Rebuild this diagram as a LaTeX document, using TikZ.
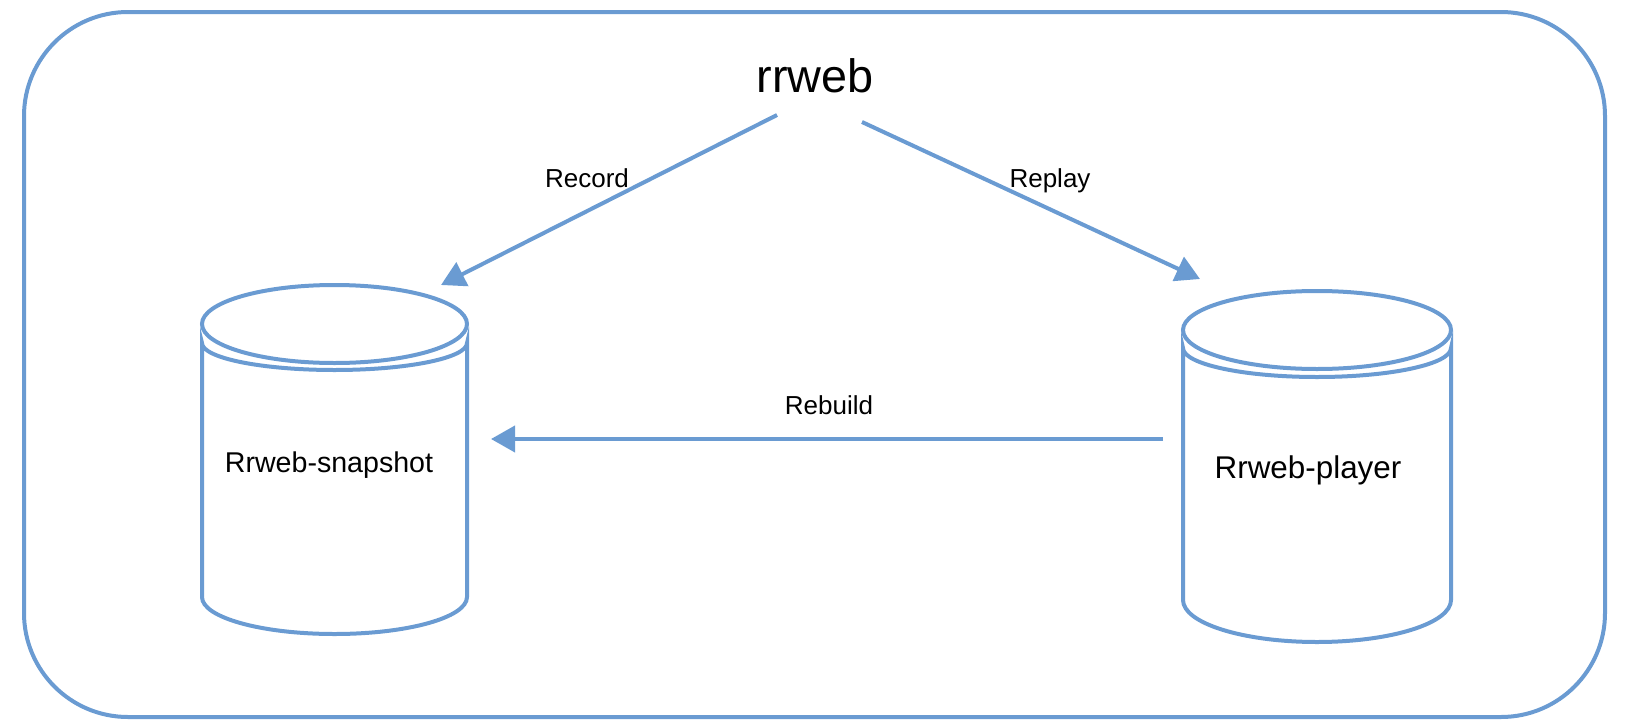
\documentclass[tikz,border=0pt]{standalone}
\usepackage{fontspec}
\setmainfont{Liberation Sans}
\usetikzlibrary{arrows.meta}
\definecolor{edge}{RGB}{106,155,210}
\tikzset{
  outline/.style={draw=edge, line width=2pt},
  conn/.style={draw=edge, line width=2pt, -{Triangle[length=12pt,width=13pt]}},
  lbl/.style={inner sep=0pt, anchor=base, font=\fontsize{13}{15}\selectfont},
}
\begin{document}
\begin{tikzpicture}[x=0.5pt,y=-0.5pt]
\useasboundingbox (0,0) rectangle (1644,728);
% outer frame
\draw[outline, rounded corners=52pt] (24,12) rectangle (1605,717);
% title
\node[inner sep=0pt, anchor=base, font=\fontsize{23.4}{26}\selectfont] (title) at (815,92) {rrweb};
% left datastore
\draw[outline] (334.5,324) ellipse [x radius=132.5, y radius=39];
\draw[outline] (202,343) arc[start angle=180, end angle=0, x radius=132.5, y radius=27] -- (467,597) arc[start angle=0, end angle=180, x radius=132.5, y radius=37] -- cycle;
\node[inner sep=0pt, anchor=base, font=\fontsize{14.3}{16}\selectfont] (snap) at (329,472) {Rrweb-snapshot};
% right datastore
\draw[outline] (1317,330) ellipse [x radius=134, y radius=39];
\draw[outline] (1183,348) arc[start angle=180, end angle=0, x radius=134, y radius=29] -- (1451,600) arc[start angle=0, end angle=180, x radius=134, y radius=42] -- cycle;
\node[inner sep=0pt, anchor=base, font=\fontsize{15.7}{18}\selectfont] (player) at (1308,478) {Rrweb-player};
% connector endpoints
\coordinate (recS) at (777,115);
\coordinate (recE) at (441,285);
\coordinate (repS) at (862,122);
\coordinate (repE) at (1200,279);
\coordinate (rebS) at (1163,439);
\coordinate (rebE) at (491,439);
\draw[conn] (recS) -- (recE);
\draw[conn] (repS) -- (repE);
\draw[conn] (rebS) -- (rebE);
\node[lbl] (record) at (587,187) {Record};
\node[lbl] (replay) at (1050,187) {Replay};
\node[lbl] (rebuild) at (829,414) {Rebuild};
\end{tikzpicture}
\end{document}
